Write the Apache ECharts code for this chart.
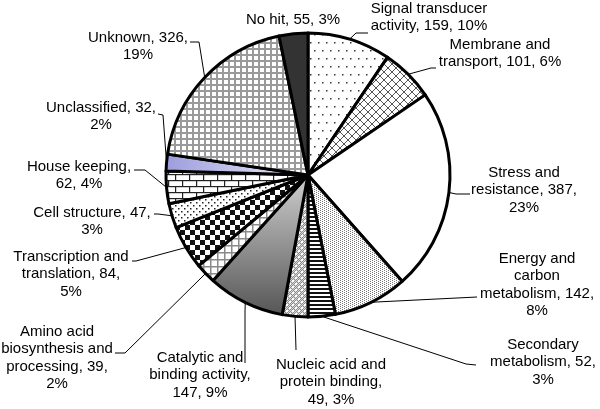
<!DOCTYPE html>
<html>
<head>
<meta charset="utf-8">
<script src="https://cdn.jsdelivr.net/npm/echarts@6/dist/echarts.min.js"></script>
<style>
html,body{margin:0;padding:0;background:#fff;}
#chart{width:600px;height:409px;}
</style>
</head>
<body>
<div id="chart"></div>
<script>
// ---- data ----
const categories = [
  'Signal transducer\nactivity',
  'Membrane and\ntransport',
  'Stress and\nresistance',
  'Energy and\ncarbon\nmetabolism',
  'Secondary\nmetabolism',
  'Nucleic acid and\nprotein binding',
  'Catalytic and\nbinding activity',
  'Amino acid\nbiosynthesis and\nprocessing',
  'Transcription and\ntranslation',
  'Cell structure',
  'House keeping',
  'Unclassified',
  'Unknown',
  'No hit'
];
const values = [159, 101, 387, 142, 52, 49, 147, 39, 84, 47, 62, 32, 326, 55];
const percents = [10, 6, 23, 8, 3, 3, 9, 2, 5, 3, 4, 2, 19, 3];

// ---- label text layout (separator after name, separator after value) ----
const labelSeps = [
  [' ', ' '], [' ', ' '], [' ', '\n'], [' ', '\n'], [' ', '\n'], ['\n', ' '], ['\n', ' '],
  [' ', '\n'], [' ', '\n'], [' ', '\n'], ['\n', ' '], [' ', '\n'], [' ', '\n'], [' ', ' ']
];

// ---- label positions (style): centre x, top y, leader line waypoints ----
const labelPos = [
  {x: 429, y: 0,   line: [[356, 33], [368, 33]]},
  {x: 500, y: 36,  line: [[431, 68], [436, 68]]},
  {x: 524, y: 164, line: [[456, 194], [470, 194]]},
  {x: 537, y: 250, line: [[477, 297]]},
  {x: 543, y: 336, line: [[466, 364], [476, 365]]},
  {x: 331, y: 356, line: [[296, 350]]},
  {x: 200, y: 349, line: [[245, 312], [245, 363]]},
  {x: 57,  y: 323, line: [[125, 353], [115, 353]]},
  {x: 71,  y: 248, line: [[136, 261], [132, 261]]},
  {x: 92,  y: 204, line: [[158, 214], [154, 214]]},
  {x: 79,  y: 158, line: [[145, 170], [134, 170]]},
  {x: 101, y: 99,  line: [[163, 115], [158, 114]]},
  {x: 138, y: 29,  line: [[199, 42], [190, 42]]},
  {x: 293, y: 11,  line: null}
];

// ---- fills ----
function pat(w, h, draw) {
  const c = document.createElement('canvas');
  c.width = w; c.height = h;
  const g = c.getContext('2d');
  g.fillStyle = '#fff'; g.fillRect(0, 0, w, h);
  draw(g);
  return {image: c, repeat: 'repeat'};
}
const fills = [
  // Signal transducer: sparse dots
  pat(16, 16, g => { g.fillStyle = '#333'; [[2,2],[10,2],[6,10],[14,10]].forEach(p => g.fillRect(p[0], p[1], 1.5, 1.5)); }),
  // Membrane: diagonal crosshatch
  pat(8, 8, g => { g.strokeStyle = '#555'; g.lineWidth = 1; g.beginPath(); g.moveTo(-1,-1); g.lineTo(9,9); g.moveTo(9,-1); g.lineTo(-1,9); g.stroke(); }),
  // Stress: white
  '#ffffff',
  // Energy: fine stipple
  pat(4, 2, g => { g.fillStyle = '#777'; g.fillRect(0,0,1,1); g.fillRect(2,1,1,1); }),
  // Secondary: horizontal stripes
  pat(4, 4, g => { g.fillStyle = '#111'; g.fillRect(0,0,4,2); }),
  // Nucleic: grey dither with white dots
  pat(6, 6, g => { for (let i=0;i<6;i++) for (let j=0;j<6;j++) { g.fillStyle = (i+j)%2 ? '#8c8c8c' : '#d8d8d8'; g.fillRect(i,j,1,1);} g.fillStyle='#fff'; g.fillRect(1,1,2,2); g.fillRect(4,4,2,2); }),
  // Catalytic: grey gradient
  {type: 'linear', x: 0, y: 0, x2: 0, y2: 1, colorStops: [{offset: 0, color: '#d0d0d0'}, {offset: 1, color: '#555555'}]},
  // Amino acid: grid
  pat(7, 7, g => { g.fillStyle = '#8a8a8a'; g.fillRect(0,0,7,1.5); g.fillRect(0,0,1.5,7); }),
  // Transcription: checkerboard
  pat(10, 10, g => { g.fillStyle = '#111'; g.fillRect(0,0,5,5); g.fillRect(5,5,5,5); }),
  // Cell structure: dots
  pat(6, 6, g => { g.fillStyle = '#222'; g.fillRect(1,1,1.5,1.5); g.fillRect(4,4,1.5,1.5); }),
  // House keeping: bricks
  pat(14, 12, g => { g.fillStyle = '#222'; g.fillRect(0,0,14,1.2); g.fillRect(0,6,14,1.2); g.fillRect(0,0,1.2,6); g.fillRect(7,6,1.2,6); }),
  // Unclassified: lavender gradient
  {type: 'linear', x: 0, y: 0, x2: 1, y2: 0, colorStops: [{offset: 0, color: '#9c9cdc'}, {offset: 1, color: '#eeeefa'}]},
  // Unknown: fine grid
  pat(6, 6, g => { g.fillStyle = '#9a9a9a'; g.fillRect(0,0,6,2); g.fillRect(0,0,2,6); }),
  // No hit: dark
  '#333333'
];

const data = categories.map((name, i) => ({
  name: name,
  value: values[i],
  itemStyle: {color: fills[i]},
  labelLine: {show: labelPos[i].line !== null}
}));

const chart = echarts.init(document.getElementById('chart'), null, {renderer: 'canvas'});
chart.setOption({
  backgroundColor: '#ffffff',
  animation: false,
  series: [{
    type: 'pie',
    center: [308, 175],
    radius: 142,
    startAngle: 90,
    clockwise: true,
    avoidLabelOverlap: false,
    emphasis: {disabled: true},
    itemStyle: {borderColor: '#000', borderWidth: 3},
    label: {
      show: true,
      position: 'outside',
      color: '#000',
      fontFamily: 'Liberation Sans, Arial, sans-serif',
      fontSize: 15,
      lineHeight: 17.5,
      align: 'center',
      formatter: p => {
        const s = labelSeps[p.dataIndex];
        return p.name + ',' + s[0] + p.value + ',' + s[1] + percents[p.dataIndex] + '%';
      }
    },
    labelLine: {show: true, length: 5, length2: 5, lineStyle: {color: '#000', width: 1}},
    labelLayout: params => {
      const lp = labelPos[params.dataIndex];
      const out = {x: lp.x, y: lp.y, align: 'center', verticalAlign: 'top'};
      if (lp.line && params.labelLinePoints) {
        const start = params.labelLinePoints[0];
        const pts = [start].concat(lp.line);
        while (pts.length < 3) pts.push(pts[pts.length - 1]);
        out.labelLinePoints = pts;
      }
      return out;
    },
    data: data
  }]
});
</script>
</body>
</html>
